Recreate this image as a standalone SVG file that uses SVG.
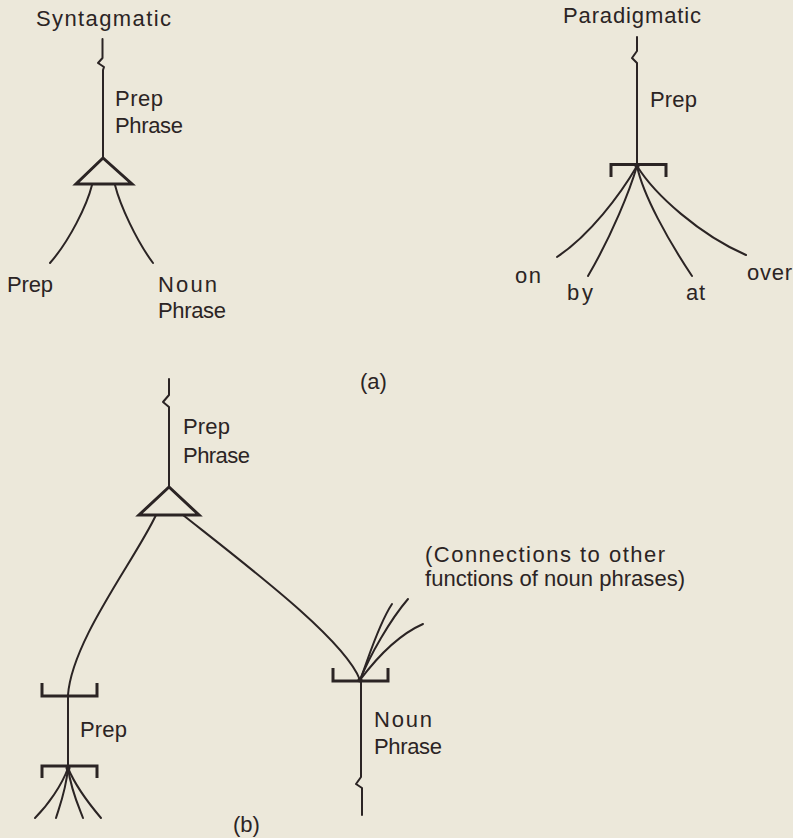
<svg xmlns="http://www.w3.org/2000/svg" width="793" height="838" viewBox="0 0 793 838">
  <style>
    .bg { fill: #ece8da; }
    text { font-family: "Liberation Sans", Arial, sans-serif; font-size: 22px; fill: #2b2424; }
    .ln { fill: none; stroke: #2b2424; stroke-width: 2; stroke-linecap: round; stroke-linejoin: round; }
    .thick { fill: none; stroke: #2b2424; stroke-width: 3; stroke-linejoin: miter; }
    .dot { fill: #2b2424; }
  </style>
  <rect class="bg" x="0" y="0" width="793" height="838"/>

  <!-- (a) left: syntagmatic structure -->
  <g id="syntagmatic">
    <text x="36" y="26" textLength="135" lengthAdjust="spacing">Syntagmatic</text>
    <text x="115" y="106" textLength="48" lengthAdjust="spacing">Prep</text>
    <text x="115" y="133" textLength="68" lengthAdjust="spacing">Phrase</text>
  </g>
  <g id="syn-and">
    <polygon class="thick" points="103,158 76,184 132,184"/>
  </g>
  <g id="syn-prep">
    <text x="7" y="292" textLength="46" lengthAdjust="spacing">Prep</text>
  </g>
  <g id="syn-noun-phrase">
    <text x="158" y="292" textLength="59" lengthAdjust="spacing">Noun</text>
    <text x="158" y="318" textLength="68" lengthAdjust="spacing">Phrase</text>
  </g>

  <!-- (a) right: paradigmatic structure -->
  <g id="paradigmatic">
    <text x="563" y="23" textLength="138" lengthAdjust="spacing">Paradigmatic</text>
    <text x="650" y="107" textLength="47" lengthAdjust="spacing">Prep</text>
  </g>
  <g id="para-or">
    <path class="thick" d="M611,177 V164.5 H666 V177"/>
    <circle class="dot" cx="637" cy="166" r="2.5"/>
  </g>
  <g id="word-on"><text x="515" y="283" textLength="26" lengthAdjust="spacing">on</text></g>
  <g id="word-by"><text x="567" y="300" textLength="26" lengthAdjust="spacing">by</text></g>
  <g id="word-at"><text x="686" y="300" textLength="19" lengthAdjust="spacing">at</text></g>
  <g id="word-over"><text x="747" y="280" textLength="45" lengthAdjust="spacing">over</text></g>

  <g id="label-a"><text x="360" y="389">(a)</text></g>

  <!-- (b) combined network -->
  <g id="b-prep-phrase">
    <text x="183" y="434" textLength="47" lengthAdjust="spacing">Prep</text>
    <text x="183" y="463" textLength="67" lengthAdjust="spacing">Phrase</text>
    <polygon class="thick" points="169,487 139,515 199,515"/>
  </g>
  <g id="b-prep">
    <path class="thick" d="M42,683 V696 H97 V683"/>
    <text x="80" y="737" textLength="47" lengthAdjust="spacing">Prep</text>
    <path class="thick" d="M42,778 V766 H97 V778"/>
    <circle class="dot" cx="68" cy="768" r="2.5"/>
  </g>
  <g id="b-noun-phrase">
    <path class="thick" d="M333,668 V681 H388 V668"/>
    <circle class="dot" cx="360" cy="680" r="2.5"/>
    <text x="374" y="727" textLength="58" lengthAdjust="spacing">Noun</text>
    <text x="374" y="754" textLength="68" lengthAdjust="spacing">Phrase</text>
  </g>
  <g id="b-note">
    <text x="425" y="562" textLength="240" lengthAdjust="spacing">(Connections to other</text>
    <text x="425" y="586" textLength="260" lengthAdjust="spacing">functions of noun phrases)</text>
  </g>
  <g id="label-b"><text x="233" y="832">(b)</text></g>

  <!-- connectors -->
  <g id="connectors">
    <!-- (a) syntagmatic -->
    <path class="ln" d="M102.5,39 V58 L98,63 L104,67 L103,70 V158"/>
    <path class="ln" d="M92,185 C87,205 70,240 50,263"/>
    <path class="ln" d="M115,185 C120,205 136,240 153,263"/>
    <!-- (a) paradigmatic -->
    <path class="ln" d="M637,37 V51 L632,58 L637,63 V166"/>
    <path class="ln" d="M637,166 C620,195 590,235 557,257"/>
    <path class="ln" d="M637,166 C630,190 612,235 588,276"/>
    <path class="ln" d="M637,166 C643,195 668,240 692,276"/>
    <path class="ln" d="M637,166 C655,195 700,235 746,255"/>
    <!-- (b) -->
    <path class="ln" d="M169,379 V395 L163,402 L169,407 V487"/>
    <path class="ln" d="M156,515 C135,560 72,640 68,695"/>
    <path class="ln" d="M183,515 C250,568 345,640 360,680"/>
    <path class="ln" d="M68,696 V768"/>
    <path class="ln" d="M68,768 C62,785 48,805 35,818"/>
    <path class="ln" d="M68,768 C66,790 60,805 56,818"/>
    <path class="ln" d="M68,768 C71,790 78,805 83,818"/>
    <path class="ln" d="M68,768 C75,785 90,805 101,818"/>
    <path class="ln" d="M360,680 C368,660 378,625 392,604"/>
    <path class="ln" d="M360,680 C370,655 390,620 408,599"/>
    <path class="ln" d="M360,680 C375,660 398,635 423,624"/>
    <path class="ln" d="M361,681 V777 L356,784 L362,788 V815"/>
  </g>
</svg>
